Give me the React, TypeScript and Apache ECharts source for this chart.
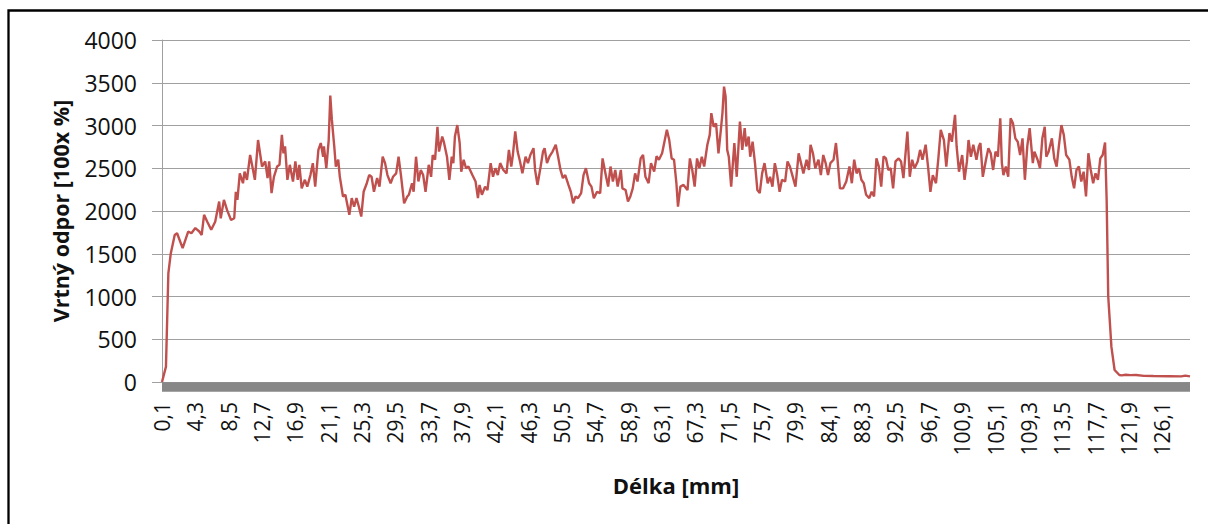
import React, { useEffect, useRef } from "react";
import * as echarts from "echarts";

// Category axis: drilling depth every 0.1 mm from 0.1 to 129.6 mm
const X_START_MM = 0.1;
const X_STEP_MM = 0.1;
const X_COUNT = 1296;
const CATEGORIES: string[] = Array.from({ length: X_COUNT }, (_, i) =>
  (X_START_MM + i * X_STEP_MM).toFixed(1).replace(".", ",")
);

// Read-off positions (mm) and drilling resistance values
const POS_MM: number[] = [
  0.1, 0.6, 0.9, 1.2, 1.7, 2.0, 2.7, 3.4, 3.8, 4.3, 4.8, 5.1, 5.4, 5.8, 6.3, 6.8, 7.3, 7.5, 7.9, 8.3,
  8.8, 9.2, 9.4, 9.6, 9.9, 10.3, 10.5, 10.8, 11.2, 11.4, 11.8, 12.2, 12.7, 13.1, 13.4, 13.6, 13.9, 14.2, 14.6, 14.9,
  15.2, 15.4, 15.6, 15.9, 16.2, 16.6, 16.9, 17.2, 17.4, 17.7, 18.1, 18.4, 18.8, 19.1, 19.4, 19.8, 20.1, 20.4, 20.5, 20.8,
  21.1, 21.3, 21.5, 21.8, 22.0, 22.3, 22.5, 22.9, 23.2, 23.5, 23.7, 24.0, 24.3, 24.6, 24.9, 25.2, 25.5, 25.9, 26.2, 26.5,
  26.8, 27.2, 27.5, 27.9, 28.2, 28.5, 28.9, 29.2, 29.6, 29.9, 30.2, 30.6, 31.0, 31.2, 31.6, 31.8, 32.1, 32.4, 32.7, 33.0,
  33.3, 33.7, 34.0, 34.2, 34.5, 34.8, 35.0, 35.4, 35.6, 36.0, 36.3, 36.6, 36.8, 37.0, 37.3, 37.6, 37.8, 38.1, 38.4, 38.7,
  39.2, 39.6, 39.9, 40.1, 40.4, 40.8, 41.1, 41.5, 41.8, 42.1, 42.4, 42.7, 43.1, 43.5, 43.8, 44.1, 44.3, 44.6, 44.9, 45.2,
  45.5, 45.9, 46.2, 46.5, 46.9, 47.1, 47.4, 47.8, 48.1, 48.3, 48.6, 48.9, 49.3, 49.7, 50.0, 50.3, 50.6, 50.9, 51.3, 51.6,
  51.9, 52.2, 52.5, 52.9, 53.2, 53.5, 53.9, 54.2, 54.5, 54.9, 55.3, 55.6, 56.0, 56.3, 56.6, 56.9, 57.2, 57.5, 57.9, 58.1,
  58.5, 58.8, 59.1, 59.4, 59.7, 60.0, 60.4, 60.7, 61.0, 61.4, 61.7, 62.1, 62.4, 62.7, 63.1, 63.7, 64.0, 64.3, 64.6, 64.9,
  65.1, 65.4, 65.8, 66.3, 66.6, 66.9, 67.2, 67.5, 67.8, 68.1, 68.4, 68.8, 69.1, 69.3, 69.6, 69.9, 70.2, 70.5, 70.7, 70.9,
  71.1, 71.3, 71.5, 71.8, 72.2, 72.5, 72.9, 73.2, 73.5, 73.7, 74.0, 74.2, 74.5, 74.8, 75.1, 75.4, 75.7, 76.0, 76.4, 76.7,
  77.0, 77.3, 77.6, 77.9, 78.2, 78.6, 78.9, 79.2, 79.5, 79.9, 80.3, 80.6, 80.9, 81.3, 81.6, 81.8, 82.1, 82.4, 82.8, 83.1,
  83.4, 83.7, 84.0, 84.3, 84.7, 85.0, 85.2, 85.5, 85.9, 86.3, 86.7, 87.0, 87.3, 87.6, 87.9, 88.2, 88.5, 88.8, 89.2, 89.5,
  89.8, 90.1, 90.4, 90.7, 91.0, 91.3, 91.6, 91.9, 92.2, 92.5, 92.9, 93.2, 93.5, 94.0, 94.3, 94.6, 94.9, 95.3, 95.6, 95.9,
  96.3, 96.6, 96.9, 97.2, 97.6, 97.9, 98.2, 98.6, 98.9, 99.3, 99.6, 100.0, 100.2, 100.5, 100.9, 101.2, 101.5, 101.7, 102.0, 102.3,
  102.7, 103.0, 103.2, 103.5, 103.9, 104.2, 104.5, 104.8, 105.1, 105.4, 105.7, 105.9, 106.1, 106.4, 106.7, 107.0, 107.3, 107.6, 107.9, 108.2,
  108.5, 108.8, 109.1, 109.4, 109.8, 110.0, 110.4, 110.7, 111.0, 111.3, 111.5, 111.8, 112.2, 112.5, 112.8, 113.1, 113.4, 113.7, 114.0, 114.4,
  114.7, 115.0, 115.3, 115.6, 115.9, 116.2, 116.5, 116.8, 117.1, 117.4, 117.7, 118.0, 118.3, 118.6, 118.9, 119.1, 119.3, 119.7, 120.1, 120.7,
  121.0, 121.5, 122.1, 122.8, 123.8, 125.0, 127.0, 128.5, 129.0, 129.6,
];

const VALUES: number[] = [
  0, 180, 1270, 1500, 1720, 1740, 1565, 1760, 1740, 1800, 1760, 1720, 1955, 1875, 1780, 1875, 2110, 1915, 2130, 2010,
  1895, 1915, 2225, 2130, 2440, 2325, 2460, 2365, 2655, 2560, 2365, 2830, 2520, 2580, 2385, 2580, 2210, 2400, 2520, 2540,
  2890, 2675, 2755, 2365, 2540, 2345, 2580, 2365, 2540, 2265, 2365, 2285, 2420, 2560, 2285, 2715, 2795, 2635, 2755, 2500,
  2830, 3350, 3065, 2755, 2520, 2600, 2400, 2170, 2190, 2050, 1955, 2150, 2050, 2150, 2050, 1935, 2225, 2325, 2420, 2400,
  2225, 2385, 2285, 2635, 2560, 2420, 2325, 2400, 2440, 2635, 2420, 2090, 2170, 2190, 2325, 2225, 2635, 2345, 2480, 2420,
  2225, 2540, 2400, 2655, 2600, 2985, 2695, 2870, 2810, 2635, 2365, 2635, 2560, 2870, 3005, 2795, 2460, 2600, 2500, 2520,
  2420, 2345, 2150, 2305, 2190, 2285, 2245, 2560, 2400, 2500, 2420, 2560, 2480, 2440, 2715, 2520, 2655, 2930, 2695, 2580,
  2440, 2635, 2560, 2655, 2735, 2480, 2305, 2520, 2695, 2735, 2560, 2635, 2695, 2775, 2635, 2480, 2385, 2420, 2305, 2225,
  2090, 2170, 2150, 2210, 2420, 2500, 2325, 2285, 2150, 2225, 2210, 2615, 2420, 2285, 2520, 2345, 2480, 2285, 2480, 2265,
  2245, 2110, 2170, 2265, 2440, 2345, 2615, 2655, 2400, 2325, 2560, 2460, 2640, 2600, 2676, 2950, 2830, 2615, 2600, 2325,
  2050, 2285, 2305, 2245, 2615, 2480, 2285, 2615, 2500, 2635, 2520, 2775, 2890, 3145, 2985, 3025, 2675, 2950, 3145, 3455,
  3340, 2715, 2635, 2285, 2795, 2400, 3045, 2715, 2970, 2755, 2870, 2635, 2810, 2560, 2245, 2210, 2440, 2560, 2325, 2400,
  2285, 2560, 2420, 2225, 2365, 2345, 2580, 2520, 2420, 2285, 2675, 2560, 2440, 2600, 2480, 2775, 2675, 2500, 2600, 2420,
  2655, 2560, 2420, 2560, 2600, 2795, 2600, 2265, 2265, 2345, 2520, 2325, 2600, 2440, 2500, 2365, 2325, 2190, 2150, 2225,
  2170, 2615, 2520, 2285, 2640, 2615, 2480, 2500, 2265, 2580, 2615, 2580, 2385, 2930, 2400, 2600, 2500, 2580, 2715, 2600,
  2775, 2520, 2225, 2420, 2325, 2615, 2950, 2830, 2520, 2910, 2810, 3125, 2755, 2460, 2655, 2365, 2580, 2830, 2635, 2775,
  2600, 2755, 2795, 2400, 2600, 2735, 2675, 2480, 2695, 2635, 3085, 2560, 2420, 2520, 2400, 3085, 3025, 2850, 2810, 2655,
  2850, 2365, 2755, 2970, 2560, 2695, 2600, 2500, 2850, 2985, 2635, 2695, 2850, 2615, 2520, 2775, 3005, 2890, 2655, 2600,
  2400, 2265, 2480, 2520, 2345, 2460, 2170, 2675, 2480, 2325, 2440, 2365, 2615, 2655, 2800, 2130, 1000, 410, 140, 82,
  78, 85, 80, 82, 72, 70, 68, 66, 75, 65,
];

const Y_MIN = 0;
const Y_MAX = 4000;
const Y_STEP = 500;

export default function App() {
  const ref = useRef<HTMLDivElement>(null);

  useEffect(() => {
    if (!ref.current) return;
    const chart = echarts.init(ref.current, undefined, { renderer: "svg" });
    const seriesData = POS_MM.map((mm, i) => [
      Math.round((mm - X_START_MM) / X_STEP_MM),
      VALUES[i],
    ]);
    const grid = "#A0A0A0";
    chart.setOption({
      animation: false,
      backgroundColor: "#ffffff",
      grid: { left: 162, right: 18, top: 40, bottom: 142, containLabel: false },
      xAxis: [
        {
          type: "category",
          data: CATEGORIES,
          boundaryGap: false,
          position: "bottom",
          axisLine: { show: false },
          axisTick: { show: false },
          splitLine: { show: false },
          axisLabel: {
            interval: 41,
            rotate: 90,
            margin: 20,
            fontSize: 21,
            fontFamily: "Open Sans",
            color: "#111",
          },
          name: "Délka [mm]",
          nameLocation: "middle",
          nameGap: 92,
          nameTextStyle: {
            fontFamily: "Open Sans",
            fontWeight: "bold",
            fontSize: 22,
            color: "#111",
          },
        },
        {
          type: "value",
          min: 0,
          max: 1,
          position: "bottom",
          offset: 4.75,
          axisLine: {
            show: true,
            onZero: false,
            lineStyle: { color: "#878787", width: 9.5, cap: "butt" },
          },
          axisTick: { show: false },
          axisLabel: { show: false },
          splitLine: { show: false },
        },
      ],
      yAxis: {
        type: "value",
        min: Y_MIN,
        max: Y_MAX,
        interval: Y_STEP,
        axisLine: { show: true, lineStyle: { color: grid, width: 1 } },
        axisTick: { show: true, length: 10, lineStyle: { color: grid, width: 1 } },
        splitLine: { show: true, lineStyle: { color: grid, width: 1 } },
        axisLabel: {
          margin: 25,
          fontSize: 23,
          fontFamily: "Open Sans",
          color: "#111",
          formatter: (v: number) => String(v),
        },
        name: "Vrtný odpor [100x %]",
        nameLocation: "middle",
        nameGap: 91,
        nameTextStyle: {
          fontFamily: "Open Sans",
          fontWeight: "bold",
          fontSize: 21.5,
          color: "#111",
        },
      },
      graphic: [
        {
          type: "rect",
          shape: { x: 8.5, y: 10.5, width: 1400, height: 800 },
          style: { fill: "none", stroke: "#000", lineWidth: 2.3 },
          silent: true,
        },
      ],
      series: [
        {
          type: "line",
          xAxisIndex: 0,
          data: seriesData,
          showSymbol: false,
          symbol: "none",
          lineStyle: { color: "#C0504D", width: 2.4 },
          itemStyle: { color: "#C0504D" },
          z: 5,
        },
      ],
    });
    return () => chart.dispose();
  }, []);

  return (
    <div
      ref={ref}
      style={{ position: "absolute", left: 0, top: 0, width: 1208, height: 524 }}
    />
  );
}
